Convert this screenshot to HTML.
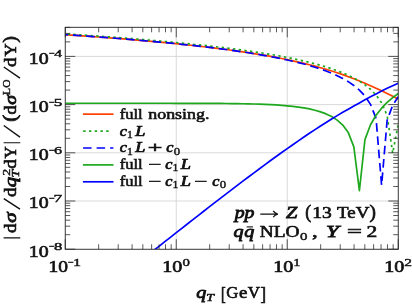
<!DOCTYPE html>
<html><head><meta charset="utf-8"><title>plot</title><style>html,body{margin:0;padding:0;background:#fff}svg{display:block}</style></head><body>
<svg width="412" height="305" viewBox="0 0 412 305">
<defs><clipPath id="cp"><rect x="65.25" y="27.30" width="333.00" height="221.95"/></clipPath></defs>
<rect width="412" height="305" fill="#fff"/>
<path d="M176.25,27.30V249.25M287.25,27.30V249.25M65.25,201.00H398.25M65.25,152.80H398.25M65.25,104.60H398.25M65.25,56.40H398.25" stroke="#d2d2d2" stroke-width="0.85" fill="none"/>
<g clip-path="url(#cp)" fill="none" stroke-width="1.70" stroke-linejoin="round">
<path d="M65.25,34.67 L70.80,35.04 L76.35,35.42 L81.90,35.80 L87.45,36.19 L93.00,36.59 L98.55,37.00 L104.10,37.41 L109.65,37.83 L115.20,38.26 L120.75,38.70 L126.30,39.15 L131.85,39.61 L137.40,40.08 L142.95,40.56 L148.50,41.05 L154.05,41.56 L159.60,42.07 L165.15,42.60 L170.70,43.15 L176.25,43.70 L181.80,44.28 L187.35,44.86 L192.90,45.47 L198.45,46.09 L204.00,46.73 L209.55,47.39 L215.10,48.08 L220.65,48.78 L226.20,49.51 L231.75,50.27 L237.30,51.05 L242.85,51.86 L248.40,52.70 L253.95,53.57 L259.50,54.48 L265.05,55.43 L270.60,56.42 L276.15,57.45 L281.70,58.53 L287.25,59.66 L292.80,60.84 L298.35,62.08 L303.90,63.38 L309.45,64.75 L315.00,66.19 L320.55,67.71 L326.10,69.30 L331.65,70.99 L337.20,72.78 L342.75,74.67 L348.30,76.68 L353.85,78.79 L359.40,81.02 L364.95,83.34 L370.50,85.75 L376.05,88.25 L381.60,90.82 L387.15,93.46 L392.70,96.20 L398.25,99.02" stroke="#ff4000"/>
<path d="M65.25,33.89 L70.80,34.25 L76.35,34.61 L81.90,34.98 L87.45,35.36 L93.00,35.74 L98.55,36.13 L104.10,36.53 L109.65,36.93 L115.20,37.34 L120.75,37.77 L126.30,38.20 L131.85,38.63 L137.40,39.08 L142.95,39.54 L148.50,40.01 L154.05,40.49 L159.60,40.98 L165.15,41.48 L170.70,41.99 L176.25,42.52 L181.80,43.06 L187.35,43.62 L192.90,44.19 L198.45,44.78 L204.00,45.38 L209.55,46.00 L215.10,46.64 L220.65,47.30 L226.20,47.98 L231.75,48.69 L237.30,49.42 L242.85,50.17 L248.40,50.96 L253.95,51.77 L259.50,52.62 L265.05,53.50 L270.60,54.42 L276.15,55.39 L281.70,56.40 L287.25,57.46 L292.80,58.58 L298.35,59.77 L303.90,61.02 L309.45,62.35 L315.00,63.78 L320.55,65.31 L326.10,66.96 L331.65,68.75 L337.20,70.71 L342.75,72.87 L348.30,75.28 L353.85,78.00 L359.40,81.13 L364.95,84.81 L370.50,89.28 L376.05,94.98 L381.60,102.83 L387.15,115.52 L392.70,153.14 L398.25,123.96" stroke="#1ea81e" stroke-dasharray="2.4 3.324" stroke-dashoffset="3.284"/>
<path d="M65.25,34.67 L70.80,35.04 L76.35,35.42 L81.90,35.80 L87.45,36.19 L93.00,36.59 L98.55,37.00 L104.10,37.41 L109.65,37.83 L115.20,38.26 L120.75,38.70 L126.30,39.15 L131.85,39.61 L137.40,40.08 L142.95,40.56 L148.50,41.06 L154.05,41.56 L159.60,42.08 L165.15,42.61 L170.70,43.15 L176.25,43.71 L181.80,44.28 L187.35,44.87 L192.90,45.47 L198.45,46.10 L204.00,46.74 L209.55,47.41 L215.10,48.09 L220.65,48.80 L226.20,49.53 L231.75,50.29 L237.30,51.08 L242.85,51.90 L248.40,52.75 L253.95,53.64 L259.50,54.57 L265.05,55.54 L270.60,56.56 L276.15,57.63 L281.70,58.76 L287.25,59.96 L292.80,61.22 L298.35,62.57 L303.90,64.01 L309.45,65.56 L315.00,67.23 L320.55,69.04 L326.10,71.03 L331.65,73.22 L337.20,75.68 L342.75,78.46 L348.30,81.66 L353.85,85.45 L359.40,90.07 L364.95,96.02 L370.50,104.36 L376.05,118.44 L381.60,185.20 L387.15,120.24 L392.70,105.26 L398.25,96.62" stroke="#0000ff" stroke-dasharray="8.6 4.72" stroke-dashoffset="5.68"/>
<path d="M65.25,103.24 L70.80,103.24 L76.35,103.24 L81.90,103.24 L87.45,103.24 L93.00,103.24 L98.55,103.24 L104.10,103.24 L109.65,103.24 L115.20,103.24 L120.75,103.24 L126.30,103.24 L131.85,103.25 L137.40,103.25 L142.95,103.25 L148.50,103.25 L154.05,103.26 L159.60,103.26 L165.15,103.27 L170.70,103.27 L176.25,103.28 L181.80,103.29 L187.35,103.30 L192.90,103.32 L198.45,103.34 L204.00,103.36 L209.55,103.39 L215.10,103.42 L220.65,103.46 L226.20,103.52 L231.75,103.58 L237.30,103.66 L242.85,103.75 L248.40,103.87 L253.95,104.01 L259.50,104.18 L265.05,104.39 L270.60,104.64 L276.15,104.95 L281.70,105.33 L287.25,105.79 L292.80,106.35 L298.35,107.04 L303.90,107.89 L309.45,108.93 L315.00,110.23 L320.55,111.86 L326.10,113.92 L331.65,116.59 L337.20,120.12 L342.75,125.04 L348.30,132.58 L353.85,146.88 L359.40,190.64 L364.95,139.67 L370.50,124.76 L376.05,115.27 L381.60,108.17 L387.15,102.44 L392.70,97.62 L398.25,93.47" stroke="#1ea81e"/>
<path d="M65.25,320.22 L70.80,315.84 L76.35,311.46 L81.90,307.08 L87.45,302.70 L93.00,298.33 L98.55,293.95 L104.10,289.58 L109.65,285.20 L115.20,280.82 L120.75,276.44 L126.30,272.06 L131.85,267.69 L137.40,263.31 L142.95,258.93 L148.50,254.55 L154.05,250.18 L159.60,245.80 L165.15,241.43 L170.70,237.07 L176.25,232.70 L181.80,228.35 L187.35,224.00 L192.90,219.65 L198.45,215.32 L204.00,211.00 L209.55,206.69 L215.10,202.39 L220.65,198.11 L226.20,193.84 L231.75,189.59 L237.30,185.36 L242.85,181.16 L248.40,176.98 L253.95,172.82 L259.50,168.70 L265.05,164.60 L270.60,160.54 L276.15,156.52 L281.70,152.53 L287.25,148.58 L292.80,144.68 L298.35,140.83 L303.90,137.03 L309.45,133.28 L315.00,129.59 L320.55,125.97 L326.10,122.43 L331.65,118.98 L337.20,115.62 L342.75,112.35 L348.30,109.16 L353.85,106.02 L359.40,102.92 L364.95,99.85 L370.50,96.84 L376.05,93.89 L381.60,91.05 L387.15,88.32 L392.70,85.73 L398.25,83.28" stroke="#0000ff"/>
</g>
<path d="M65.25,249.25v-10.00M65.25,27.30v10.00M98.66,249.25v-5.00M98.66,27.30v5.00M118.21,249.25v-5.00M118.21,27.30v5.00M132.08,249.25v-5.00M132.08,27.30v5.00M142.84,249.25v-5.00M142.84,27.30v5.00M151.62,249.25v-5.00M151.62,27.30v5.00M159.06,249.25v-5.00M159.06,27.30v5.00M165.49,249.25v-5.00M165.49,27.30v5.00M171.17,249.25v-5.00M171.17,27.30v5.00M176.25,249.25v-10.00M176.25,27.30v10.00M209.66,249.25v-5.00M209.66,27.30v5.00M229.21,249.25v-5.00M229.21,27.30v5.00M243.08,249.25v-5.00M243.08,27.30v5.00M253.84,249.25v-5.00M253.84,27.30v5.00M262.62,249.25v-5.00M262.62,27.30v5.00M270.06,249.25v-5.00M270.06,27.30v5.00M276.49,249.25v-5.00M276.49,27.30v5.00M282.17,249.25v-5.00M282.17,27.30v5.00M287.25,249.25v-10.00M287.25,27.30v10.00M320.66,249.25v-5.00M320.66,27.30v5.00M340.21,249.25v-5.00M340.21,27.30v5.00M354.08,249.25v-5.00M354.08,27.30v5.00M364.84,249.25v-5.00M364.84,27.30v5.00M373.62,249.25v-5.00M373.62,27.30v5.00M381.06,249.25v-5.00M381.06,27.30v5.00M387.49,249.25v-5.00M387.49,27.30v5.00M393.17,249.25v-5.00M393.17,27.30v5.00M398.25,249.25v-10.00M398.25,27.30v10.00M65.25,249.20h10.00M398.25,249.20h-10.00M65.25,234.69h5.00M398.25,234.69h-5.00M65.25,226.20h5.00M398.25,226.20h-5.00M65.25,220.18h5.00M398.25,220.18h-5.00M65.25,215.51h5.00M398.25,215.51h-5.00M65.25,211.69h5.00M398.25,211.69h-5.00M65.25,208.47h5.00M398.25,208.47h-5.00M65.25,205.67h5.00M398.25,205.67h-5.00M65.25,203.21h5.00M398.25,203.21h-5.00M65.25,201.00h10.00M398.25,201.00h-10.00M65.25,186.49h5.00M398.25,186.49h-5.00M65.25,178.00h5.00M398.25,178.00h-5.00M65.25,171.98h5.00M398.25,171.98h-5.00M65.25,167.31h5.00M398.25,167.31h-5.00M65.25,163.49h5.00M398.25,163.49h-5.00M65.25,160.27h5.00M398.25,160.27h-5.00M65.25,157.47h5.00M398.25,157.47h-5.00M65.25,155.01h5.00M398.25,155.01h-5.00M65.25,152.80h10.00M398.25,152.80h-10.00M65.25,138.29h5.00M398.25,138.29h-5.00M65.25,129.80h5.00M398.25,129.80h-5.00M65.25,123.78h5.00M398.25,123.78h-5.00M65.25,119.11h5.00M398.25,119.11h-5.00M65.25,115.29h5.00M398.25,115.29h-5.00M65.25,112.07h5.00M398.25,112.07h-5.00M65.25,109.27h5.00M398.25,109.27h-5.00M65.25,106.81h5.00M398.25,106.81h-5.00M65.25,104.60h10.00M398.25,104.60h-10.00M65.25,90.09h5.00M398.25,90.09h-5.00M65.25,81.60h5.00M398.25,81.60h-5.00M65.25,75.58h5.00M398.25,75.58h-5.00M65.25,70.91h5.00M398.25,70.91h-5.00M65.25,67.09h5.00M398.25,67.09h-5.00M65.25,63.87h5.00M398.25,63.87h-5.00M65.25,61.07h5.00M398.25,61.07h-5.00M65.25,58.61h5.00M398.25,58.61h-5.00M65.25,56.40h10.00M398.25,56.40h-10.00M65.25,41.89h5.00M398.25,41.89h-5.00M65.25,33.40h5.00M398.25,33.40h-5.00M65.25,27.38h5.00M398.25,27.38h-5.00" stroke="#222" stroke-width="0.75" fill="none"/>
<rect x="65.25" y="27.30" width="333.00" height="221.95" fill="none" stroke="#222" stroke-width="0.9"/>
<g font-family="Liberation Serif, serif" fill="#111" stroke="#111" stroke-width="0.8" style="filter:grayscale(1)">
<text transform="translate(28.85,256.50) scale(1.142,1.000)" font-size="17.4" stroke-width="0.66">10</text>
<text transform="translate(48.81,250.20) scale(0.925,1.000)" font-size="11.3" stroke-width="0.43">−</text>
<text transform="translate(54.08,250.20) scale(1.477,1.000)" font-size="11.3" stroke-width="0.43">8</text>
<text transform="translate(28.85,208.30) scale(1.142,1.000)" font-size="17.4" stroke-width="0.66">10</text>
<text transform="translate(48.81,202.00) scale(0.925,1.000)" font-size="11.3" stroke-width="0.43">−</text>
<text transform="translate(53.52,202.00) scale(1.531,1.000)" font-size="11.3" stroke-width="0.43">7</text>
<text transform="translate(28.85,160.10) scale(1.142,1.000)" font-size="17.4" stroke-width="0.66">10</text>
<text transform="translate(48.81,153.80) scale(0.925,1.000)" font-size="11.3" stroke-width="0.43">−</text>
<text transform="translate(54.10,153.80) scale(1.426,1.000)" font-size="11.3" stroke-width="0.43">6</text>
<text transform="translate(28.85,111.90) scale(1.142,1.000)" font-size="17.4" stroke-width="0.66">10</text>
<text transform="translate(48.81,105.60) scale(0.925,1.000)" font-size="11.3" stroke-width="0.43">−</text>
<text transform="translate(53.79,105.60) scale(1.531,1.000)" font-size="11.3" stroke-width="0.43">5</text>
<text transform="translate(28.85,63.70) scale(1.142,1.000)" font-size="17.4" stroke-width="0.66">10</text>
<text transform="translate(48.81,57.40) scale(0.925,1.000)" font-size="11.3" stroke-width="0.43">−</text>
<text transform="translate(54.36,57.40) scale(1.378,1.000)" font-size="11.3" stroke-width="0.43">4</text>
<text transform="translate(48.48,272.00) scale(1.120,1.000)" font-size="17.4" stroke-width="0.66">10</text>
<text transform="translate(67.66,265.60) scale(0.925,1.000)" font-size="11.3" stroke-width="0.43">−</text>
<text transform="translate(73.00,265.60) scale(1.416,1.000)" font-size="11.3" stroke-width="0.43">1</text>
<text transform="translate(162.28,272.00) scale(1.155,1.000)" font-size="17.4" stroke-width="0.66">10</text>
<text transform="translate(182.39,265.60) scale(1.315,1.000)" font-size="11.3" stroke-width="0.43">0</text>
<text transform="translate(273.28,272.00) scale(1.155,1.000)" font-size="17.4" stroke-width="0.66">10</text>
<text transform="translate(293.32,265.60) scale(1.274,1.000)" font-size="11.3" stroke-width="0.43">1</text>
<text transform="translate(384.28,272.00) scale(1.155,1.000)" font-size="17.4" stroke-width="0.66">10</text>
<text transform="translate(404.37,265.60) scale(1.363,1.000)" font-size="11.3" stroke-width="0.43">2</text>
<text transform="translate(196.17,298.20) scale(1.181,1.000)" font-size="17.0" stroke-width="0.85" font-style="italic">q</text>
<text transform="translate(206.23,300.90) scale(1.227,1.000)" font-size="11.3" stroke-width="0.57" font-style="italic">T</text>
<text transform="translate(221.12,299.55) scale(0.828,1.150)" font-size="17.0" stroke-width="0.65">[</text>
<text transform="translate(226.37,298.20) scale(0.989,1.000)" font-size="17.0" stroke-width="0.65">G</text>
<text transform="translate(238.91,298.20) scale(1.114,1.000)" font-size="17.0" stroke-width="0.65">e</text>
<text transform="translate(247.70,298.20) scale(0.998,1.000)" font-size="17.0" stroke-width="0.65">V</text>
<text transform="translate(260.38,299.55) scale(0.979,1.150)" font-size="17.0" stroke-width="0.65">]</text>
<text transform="translate(119.64,118.80) scale(1.148,1.000)" font-size="14.4" stroke-width="0.55">full</text>
<text transform="translate(148.22,118.80) scale(1.246,1.000)" font-size="14.4" stroke-width="0.55">nonsing.</text>
<text transform="translate(119.65,135.60) scale(1.119,1.000)" font-size="14.4" stroke-width="0.72" font-style="italic">c</text>
<text transform="translate(126.98,138.00) scale(1.197,1.000)" font-size="9.8" stroke-width="0.37">1</text>
<text transform="translate(135.19,135.60) scale(1.268,1.000)" font-size="14.4" stroke-width="0.72" font-style="italic">L</text>
<text transform="translate(119.65,152.40) scale(1.119,1.000)" font-size="14.4" stroke-width="0.72" font-style="italic">c</text>
<text transform="translate(126.98,154.80) scale(1.197,1.000)" font-size="9.8" stroke-width="0.37">1</text>
<text transform="translate(135.19,152.40) scale(1.268,1.000)" font-size="14.4" stroke-width="0.72" font-style="italic">L</text>
<text transform="translate(147.79,152.40) scale(1.793,1.000)" font-size="14.4" stroke-width="0.55">+</text>
<text transform="translate(166.25,152.40) scale(1.119,1.000)" font-size="14.4" stroke-width="0.72" font-style="italic">c</text>
<text transform="translate(173.80,154.80) scale(1.306,1.000)" font-size="9.8" stroke-width="0.37">0</text>
<text transform="translate(119.64,169.00) scale(1.148,1.000)" font-size="14.4" stroke-width="0.55">full</text>
<text transform="translate(148.12,169.00) scale(1.600,1.000)" font-size="14.4" stroke-width="0.55">−</text>
<text transform="translate(165.15,169.00) scale(1.119,1.000)" font-size="14.4" stroke-width="0.72" font-style="italic">c</text>
<text transform="translate(172.48,171.40) scale(1.197,1.000)" font-size="9.8" stroke-width="0.37">1</text>
<text transform="translate(180.69,169.00) scale(1.268,1.000)" font-size="14.4" stroke-width="0.72" font-style="italic">L</text>
<text transform="translate(119.64,185.70) scale(1.148,1.000)" font-size="14.4" stroke-width="0.55">full</text>
<text transform="translate(148.12,185.70) scale(1.600,1.000)" font-size="14.4" stroke-width="0.55">−</text>
<text transform="translate(165.15,185.70) scale(1.119,1.000)" font-size="14.4" stroke-width="0.72" font-style="italic">c</text>
<text transform="translate(172.48,188.10) scale(1.197,1.000)" font-size="9.8" stroke-width="0.37">1</text>
<text transform="translate(180.69,185.70) scale(1.268,1.000)" font-size="14.4" stroke-width="0.72" font-style="italic">L</text>
<text transform="translate(194.02,185.70) scale(1.600,1.000)" font-size="14.4" stroke-width="0.55">−</text>
<text transform="translate(212.15,185.70) scale(1.119,1.000)" font-size="14.4" stroke-width="0.72" font-style="italic">c</text>
<text transform="translate(219.70,188.10) scale(1.306,1.000)" font-size="9.8" stroke-width="0.37">0</text>
<text transform="translate(234.74,217.70) scale(1.236,1.000)" font-size="16.0" stroke-width="0.80" font-style="italic">pp</text>
<text transform="translate(286.10,217.70) scale(1.265,1.000)" font-size="16.0" stroke-width="0.80" font-style="italic">Z</text>
<text transform="translate(305.34,218.45) scale(1.111,1.186)" font-size="16.0" stroke-width="0.61">(</text>
<text transform="translate(312.27,217.70) scale(1.221,1.000)" font-size="16.0" stroke-width="0.61">13</text>
<text transform="translate(337.10,217.70) scale(1.185,1.000)" font-size="16.0" stroke-width="0.61">TeV</text>
<text transform="translate(369.50,218.45) scale(1.200,1.186)" font-size="16.0" stroke-width="0.61">)</text>
<text transform="translate(233.47,237.20) scale(1.255,1.000)" font-size="16.0" stroke-width="0.80" font-style="italic">q</text>
<text transform="translate(244.17,237.20) scale(1.255,1.000)" font-size="16.0" stroke-width="0.80" font-style="italic">q</text>
<text transform="translate(259.70,237.20) scale(1.213,1.000)" font-size="16.0" stroke-width="0.61">NLO</text>
<text transform="translate(299.94,239.50) scale(1.376,1.000)" font-size="10.8" stroke-width="0.41">0</text>
<text transform="translate(312.08,237.20) scale(1.440,1.000)" font-size="16.0" stroke-width="0.61">,</text>
<text transform="translate(326.12,237.20) scale(1.446,1.000)" font-size="16.0" stroke-width="0.80" font-style="italic">Y</text>
<text transform="translate(347.06,237.20) scale(1.653,1.000)" font-size="16.0" stroke-width="0.61">=</text>
<text transform="translate(366.53,237.20) scale(1.348,1.000)" font-size="16.0" stroke-width="0.61">2</text>
<path d="M260.3,214.1H277.2M273.2,210.9C274.2,212.6 275.6,213.6 277.8,214.1C275.6,214.6 274.2,215.6 273.2,217.3" fill="none" stroke="#111" stroke-width="1.2"/>
<path d="M246.6,226.9H253.0" stroke="#111" stroke-width="1.1" fill="none"/>
<g transform="translate(16.0,238.5) rotate(-90)">
<text transform="translate(5.51,0.00) scale(1.117,1.000)" font-size="17.0" stroke-width="0.65">d</text>
<text transform="translate(15.67,0.00) scale(1.232,1.000)" font-size="17.0" stroke-width="0.85" font-style="italic">σ</text>
<text transform="translate(41.51,0.00) scale(1.117,1.000)" font-size="17.0" stroke-width="0.65">d</text>
<text transform="translate(51.26,0.00) scale(1.207,1.000)" font-size="17.0" stroke-width="0.85" font-style="italic">q</text>
<text transform="translate(60.93,3.30) scale(1.227,1.000)" font-size="11.3" stroke-width="0.57" font-style="italic">T</text>
<text transform="translate(62.76,-6.00) scale(1.238,1.000)" font-size="11.3" stroke-width="0.43">2</text>
<text transform="translate(69.71,0.00) scale(1.117,1.000)" font-size="17.0" stroke-width="0.65">d</text>
<text transform="translate(80.10,0.00) scale(0.987,1.000)" font-size="17.0" stroke-width="0.65">Y</text>
<text transform="translate(116.64,-0.21) scale(1.234,1.078)" font-size="17.0" stroke-width="0.65">(</text>
<text transform="translate(123.93,0.00) scale(1.067,1.000)" font-size="17.0" stroke-width="0.65">d</text>
<text transform="translate(133.69,0.00) scale(1.164,1.000)" font-size="17.0" stroke-width="0.85" font-style="italic">σ</text>
<text transform="translate(143.62,-6.00) scale(1.078,1.000)" font-size="10.7" stroke-width="0.41">LO</text>
<text transform="translate(171.51,0.00) scale(1.117,1.000)" font-size="17.0" stroke-width="0.65">d</text>
<text transform="translate(181.90,0.00) scale(1.071,1.000)" font-size="17.0" stroke-width="0.65">Y</text>
<text transform="translate(195.68,-0.21) scale(1.174,1.078)" font-size="17.0" stroke-width="0.65">)</text>
<path d="M0.6,-12.4V4.3M95.7,-12.4V4.3" stroke="#111" stroke-width="1.1" fill="none"/>
<path d="M29.30,4.0L39.90,-12.2" stroke="#111" stroke-width="1.4" fill="none"/>
<path d="M101.40,4.0L113.00,-12.2" stroke="#111" stroke-width="1.4" fill="none"/>
<path d="M160.30,4.0L171.50,-12.2" stroke="#111" stroke-width="1.4" fill="none"/>
</g>
</g>
<g fill="none" stroke-width="1.70">
<path d="M82.9,114.15H113.5" stroke="#ff4000"/>
<path d="M83.2,131.07H110" stroke="#1ea81e" stroke-dasharray="2.4 3.35"/>
<path d="M83.1,147.98H113.4" stroke="#0000ff" stroke-dasharray="8.5 5.0"/>
<path d="M82.9,164.90H113.5" stroke="#1ea81e"/>
<path d="M82.9,181.80H113.5" stroke="#0000ff"/>
</g>
</svg>
</body></html>
